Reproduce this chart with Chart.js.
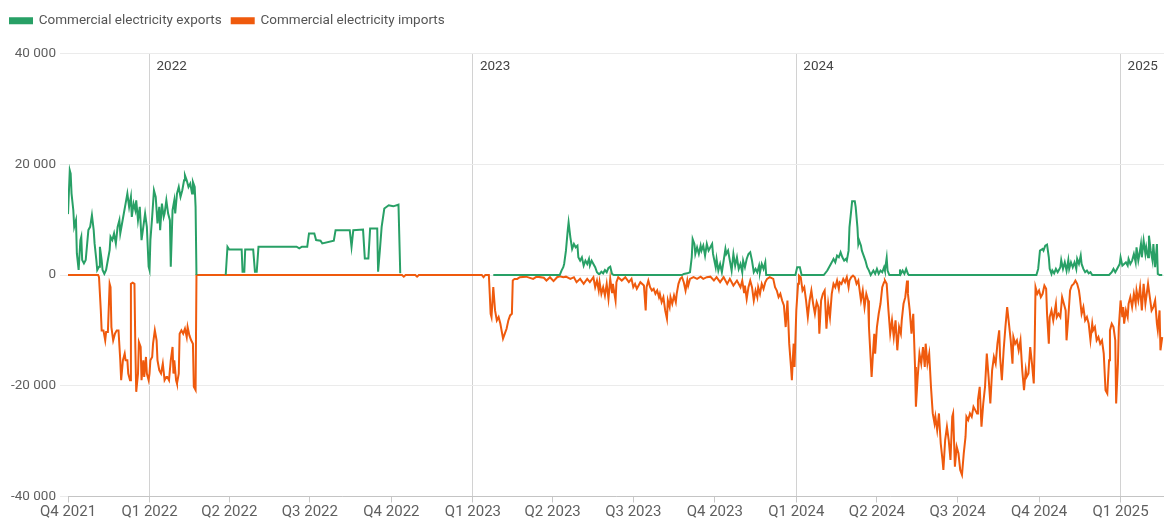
<!DOCTYPE html>
<html><head><meta charset="utf-8">
<script src="https://cdn.jsdelivr.net/npm/chart.js@4/dist/chart.umd.min.js"></script>
<style>html,body{margin:0;padding:0;background:#fff}#wrap{width:1164px;height:521px;position:relative}</style>
</head><body><div id="wrap"><canvas id="c"></canvas></div>
<script>
// x values = days since 2021-10-01
const startDate = '2021-10-01';
const quarterDays = [0,92,182,273,365,457,547,638,730,822,913,1004,1096,1188];
const quarterLabels = ['Q4 2021','Q1 2022','Q2 2022','Q3 2022','Q4 2022','Q1 2023','Q2 2023','Q3 2023','Q4 2023','Q1 2024','Q2 2024','Q3 2024','Q4 2024','Q1 2025'];
const yearDays = [92,457,822,1188];
const yearLabels = ['2022','2023','2024','2025'];
const seriesNames = ['Commercial electricity exports','Commercial electricity imports'];

const exportSeries = [
[0,11000],[2,18900],[3,18300],[4,14700],[6,11700],[7,8700],[9,9900],[10,3900],[12,900],[14,6300],[15,6900],[16,2700],[18,2100],[20,2700],[23,8100],[25,8700],[27,10800],[29,8100],[30,5700],[32,2700],[33,900],[35,1500],[36,5100],[38,2700],[39,900],[41,200],[43,900],[45,2700],[47,4500],[48,6900],[50,6300],[52,7500],[54,5700],[56,8700],[58,9900],[59,7500],[61,9300],[63,11100],[65,12900],[67,14700],[69,12300],[71,14100],[72,10500],[74,12900],[76,11700],[77,13500],[79,9900],[81,12300],[83,6300],[85,8700],[87,11100],[89,8700],[91,1500],[92,900],[93,6300],[95,10500],[97,15300],[99,14100],[101,9300],[103,12300],[104,8100],[106,12900],[108,10500],[109,11100],[111,13500],[113,11100],[115,9900],[116,1500],[118,11700],[120,13500],[121,11100],[123,14700],[125,15900],[127,14100],[129,15300],[131,17100],[132,18000],[134,17100],[136,15900],[138,16500],[140,14700],[141,16800],[143,15900],[144,12300],[145,0],[146,null],
[178,0],[180,5100],[182,4600],[196,4600],[197,600],[199,600],[200,4600],[209,4600],[211,600],[213,600],[215,5100],[258,5100],[261,4800],[264,5100],[270,5100],[272,7500],[278,7500],[280,6300],[285,6200],[287,5700],[300,6200],[302,8100],[318,8100],[320,5100],[322,8100],[333,8200],[335,3000],[339,3000],[341,8400],[349,8400],[350,600],[352,4500],[354,8700],[357,12000],[362,12600],[367,12400],[373,12700],[375,300],[376,null],
[480,0],[555,0],[557,800],[559,1400],[560,2000],[562,4400],[564,8000],[565,9500],[567,6800],[569,4700],[571,5600],[573,5000],[575,5300],[576,3200],[578,2600],[580,3200],[582,1700],[584,2600],[586,2000],[588,2900],[589,1700],[591,2600],[593,2000],[595,1400],[597,500],[599,200],[600,200],[602,600],[604,300],[606,900],[608,500],[610,1300],[612,1500],[614,200],[616,0],
[693,0],[695,200],[699,300],[702,500],[704,3200],[705,6500],[707,5600],[708,3800],[710,5000],[712,3800],[714,5300],[715,4400],[717,5300],[719,3500],[721,5600],[723,4400],[725,5000],[727,5600],[728,3800],[731,1400],[732,2900],[734,800],[736,2000],[738,500],[740,2600],[742,4700],[743,3800],[745,4400],[747,2600],[749,800],[751,3800],[753,1700],[755,3200],[757,1100],[759,2000],[761,500],[762,2600],[764,1400],[766,2900],[768,3800],[770,4100],[772,2600],[774,500],[776,1100],[778,500],[780,1700],[781,500],[783,2000],[785,1100],[787,2300],[788,0],
[821,0],[823,1400],[826,1400],[828,0],[853,0],[857,800],[861,2000],[863,2600],[864,2900],[866,2300],[868,3500],[870,3200],[872,4100],[874,3200],[876,2600],[878,2900],[879,2600],[881,4400],[882,8600],[884,11700],[885,13300],[888,13300],[889,12300],[891,8600],[892,5600],[893,6200],[895,5300],[896,4400],[898,3500],[900,2600],[902,1400],[904,800],[906,0],[909,800],[911,200],[913,1100],[915,200],[917,800],[919,500],[921,1400],[922,800],[924,3100],[925,800],[927,0],[938,0],[939,1000],[940,200],[942,800],[944,200],[946,1100],[948,200],[949,0],
[1093,0],[1095,1100],[1097,4400],[1100,4700],[1101,4400],[1103,5300],[1105,5500],[1107,3200],[1108,1100],[1110,200],[1111,800],[1113,300],[1115,1100],[1117,500],[1119,1100],[1120,1400],[1121,2700],[1123,1100],[1125,2300],[1127,800],[1129,2700],[1130,1100],[1132,2300],[1134,1400],[1136,2300],[1138,1100],[1139,2900],[1141,2000],[1143,3500],[1144,2000],[1146,1100],[1148,500],[1150,800],[1152,300],[1154,500],[1156,0],
[1175,0],[1178,500],[1180,1100],[1182,500],[1184,1100],[1187,2000],[1188,3200],[1190,1700],[1192,2000],[1194,2300],[1196,1700],[1197,2900],[1199,2000],[1201,2600],[1203,3800],[1205,2300],[1206,5000],[1208,2600],[1209,3500],[1211,5600],[1212,3200],[1214,6200],[1216,3800],[1217,5000],[1219,3200],[1220,7100],[1222,4400],[1224,2600],[1225,5600],[1227,1400],[1229,5600],[1230,200],[1232,0],[1235,0]
];

const importSeries = [
[0,0],[34,0],[35,-400],[37,-6300],[38,-10000],[40,-10000],[42,-11800],[43,-10300],[45,-10300],[47,-1600],[48,-2200],[49,-9400],[51,-11800],[53,-10600],[55,-10000],[57,-10000],[59,-15400],[60,-19000],[62,-15400],[64,-14200],[65,-15400],[67,-15400],[68,-17800],[70,-19000],[71,-1600],[73,-1400],[75,-1600],[76,-13000],[77,-21100],[79,-17800],[80,-12100],[82,-13000],[83,-19000],[85,-15400],[86,-18400],[88,-14800],[89,-17800],[91,-19000],[92,-17800],[93,-15400],[95,-14800],[96,-12400],[98,-10000],[100,-11800],[101,-15400],[103,-17200],[105,-17800],[107,-16000],[109,-19000],[111,-18400],[112,-18400],[114,-19000],[116,-15400],[118,-13000],[119,-17800],[120,-15400],[122,-19000],[123,-19600],[125,-17800],[126,-10600],[128,-10000],[130,-10600],[132,-9700],[134,-11200],[135,-9400],[137,-10900],[139,-11800],[141,-12400],[142,-20200],[144,-20800],[145,0],
[377,0],[379,-300],[381,0],[392,0],[394,-300],[396,0],[467,0],[469,-400],[471,0],[475,0],[476,-3400],[477,-7000],[478,-7600],[480,-2200],[482,-6400],[484,-8200],[486,-7600],[488,-8800],[490,-10600],[491,-11500],[493,-10600],[495,-9700],[497,-8200],[499,-7300],[501,-7000],[502,-1000],[504,-700],[507,-700],[510,-400],[517,-300],[525,-700],[529,-300],[537,-500],[540,-1000],[544,-400],[548,-1100],[552,-400],[555,-250],[559,-400],[562,-300],[567,-700],[571,-400],[574,-1300],[578,-700],[582,-1600],[586,-700],[589,-1300],[593,-400],[595,-2200],[597,-1000],[599,-2800],[600,-1300],[602,-3400],[604,-2200],[606,-3700],[608,-1600],[610,-4300],[612,-700],[614,-3100],[615,-1600],[618,-4600],[619,-1300],[621,-400],[625,-1000],[629,-400],[633,-1300],[636,-700],[638,-2200],[640,-1600],[642,-2500],[646,-1300],[650,-1900],[652,-6400],[653,-2200],[655,-1000],[657,-2200],[659,-2800],[661,-2500],[663,-3400],[665,-2800],[667,-4000],[668,-3400],[670,-4900],[672,-4000],[674,-6400],[676,-7900],[677,-4600],[679,-5800],[680,-4000],[682,-5200],[684,-3700],[686,-4900],[687,-3400],[689,-1600],[691,-700],[693,-400],[695,-1300],[697,-2800],[699,-1000],[700,-1900],[702,-700],[706,-400],[710,-700],[714,-300],[717,-700],[721,-400],[725,-300],[729,-1000],[732,-400],[736,-1300],[740,-400],[744,-1600],[747,-700],[751,-1900],[755,-1000],[759,-2200],[761,-1000],[763,-3100],[764,-1900],[766,-4300],[768,-2200],[770,-1000],[772,-2200],[774,-4600],[776,-2800],[778,-4000],[779,-2200],[781,-3400],[783,-1600],[785,-2500],[787,-1300],[789,-700],[792,-400],[796,-700],[798,-2200],[800,-2800],[802,-4000],[804,-3400],[806,-4600],[808,-5500],[810,-9400],[812,-4600],[814,-12400],[816,-16600],[817,-19000],[818,-15400],[819,-12400],[820,-16600],[822,-6400],[824,-1600],[825,-100],[827,-400],[829,-2800],[831,-2200],[833,-4600],[835,-7600],[837,-4600],[839,-2800],[841,-5200],[843,-7000],[845,-4900],[847,-5800],[848,-10600],[850,-4600],[852,-3400],[854,-2800],[856,-9700],[858,-5200],[860,-7600],[862,-3400],[864,-1600],[866,-2200],[868,-1000],[870,-2500],[871,-1300],[873,-1600],[875,-700],[877,-1300],[879,-400],[881,-2200],[882,-1000],[884,-400],[886,-100],[888,-400],[890,-1600],[892,-1000],[893,-2200],[895,-4600],[897,-2800],[899,-5800],[901,-3400],[903,-4600],[904,-9400],[906,-15400],[907,-18400],[909,-13000],[910,-10600],[911,-14200],[913,-9400],[915,-7000],[917,-5200],[919,-2200],[921,-1300],[922,-1000],[924,-1600],[926,-6400],[928,-10600],[930,-8200],[932,-11200],[934,-8200],[936,-13600],[938,-9400],[940,-10600],[941,-8200],[943,-5200],[945,-4000],[947,-1000],[948,-3400],[950,-6400],[952,-10600],[954,-7000],[956,-16600],[957,-23800],[959,-18400],[961,-14200],[963,-16000],[965,-13000],[967,-16600],[968,-12400],[970,-16000],[972,-14200],[974,-20200],[976,-25000],[978,-26800],[979,-25600],[981,-28000],[983,-25000],[985,-30400],[987,-33400],[988,-35200],[990,-29800],[992,-27400],[994,-29800],[996,-33400],[998,-25600],[999,-25000],[1001,-34600],[1003,-31000],[1005,-32200],[1007,-35200],[1009,-36100],[1011,-32200],[1013,-29200],[1014,-25600],[1016,-26200],[1018,-25000],[1020,-25600],[1022,-23800],[1024,-24400],[1026,-25000],[1027,-22600],[1029,-20200],[1031,-27400],[1033,-23200],[1035,-20200],[1037,-14200],[1039,-18400],[1041,-23200],[1043,-17200],[1045,-14800],[1047,-16000],[1049,-12400],[1051,-10000],[1052,-14800],[1054,-19000],[1056,-13600],[1058,-9400],[1060,-5800],[1062,-8800],[1064,-11800],[1066,-16000],[1067,-11200],[1069,-12400],[1071,-11800],[1073,-13600],[1075,-11800],[1077,-17200],[1079,-20800],[1081,-17200],[1082,-18400],[1084,-17800],[1086,-13000],[1088,-16000],[1090,-19600],[1091,-13000],[1092,-2200],[1094,-3400],[1096,-2800],[1098,-4000],[1100,-3400],[1102,-1900],[1104,-2500],[1105,-7000],[1107,-12400],[1108,-7600],[1110,-6400],[1112,-8200],[1115,-5200],[1116,-7600],[1118,-7000],[1120,-7600],[1122,-4000],[1124,-5200],[1126,-6400],[1127,-11800],[1129,-7600],[1131,-2800],[1133,-1900],[1135,-1600],[1137,-1000],[1139,-1600],[1141,-2800],[1142,-4000],[1144,-7000],[1146,-5800],[1148,-8200],[1150,-7600],[1152,-8800],[1154,-11800],[1156,-8800],[1157,-10000],[1159,-9400],[1161,-11800],[1163,-11200],[1165,-12400],[1167,-11800],[1169,-14200],[1171,-20800],[1173,-21400],[1175,-15400],[1176,-10000],[1178,-8800],[1180,-9400],[1182,-11800],[1183,-23200],[1185,-16000],[1186,-9400],[1188,-4600],[1190,-7600],[1191,-5800],[1192,-8800],[1194,-6400],[1196,-7600],[1197,-5200],[1199,-4000],[1201,-5800],[1203,-3400],[1205,-5200],[1206,-2800],[1208,-4600],[1210,-2200],[1212,-6400],[1214,-1600],[1216,-5200],[1218,-2800],[1219,-1600],[1221,-4000],[1223,-6400],[1225,-5800],[1227,-4600],[1229,-8800],[1230,-10000],[1232,-6400],[1233,-13600],[1235,-11200]
];

const yTicks = [-40000,-20000,0,20000,40000];
const xMaxDay = 1237;

const toPts = s => s.map(p => ({x: p[0], y: p[1]}));
const fmt = v => (v < 0 ? '-' : '') + String(Math.abs(v)).replace(/\B(?=(\d{3})+(?!\d))/g, ' ');

Chart.defaults.font.family = 'Roboto, "Noto Sans", sans-serif';
Chart.defaults.color = '#5f5f5f';

const legendSpacer = {
  id: 'legendSpacer',
  beforeLayout(chart) {
    const lg = chart.legend;
    if (!lg || lg._spacerPatched) return;
    const fit = lg.fit.bind(lg);
    lg.fit = function () { fit(); this.height += 16; };
    lg._spacerPatched = true;
  }
};

const yearMarks = {
  id: 'yearMarks',
  afterDraw(chart) {
    const {ctx, chartArea, scales} = chart;
    ctx.save();
    ctx.font = '13.5px Roboto, sans-serif';
    ctx.fillStyle = '#444';
    ctx.textBaseline = 'middle';
    ctx.textAlign = 'left';
    yearDays.forEach((d, i) => {
      ctx.fillText(yearLabels[i], scales.x.getPixelForValue(d) + 7, chartArea.top + 13);
    });
    ctx.restore();
  }
};

new Chart(document.getElementById('c'), {
  type: 'line',
  data: {
    datasets: [
      {label: seriesNames[0], data: toPts(exportSeries), borderColor: '#28a066', backgroundColor: '#28a066', borderWidth: 2, pointRadius: 0, tension: 0, spanGaps: false},
      {label: seriesNames[1], data: toPts(importSeries), borderColor: '#ef5a0d', backgroundColor: '#ef5a0d', borderWidth: 2, pointRadius: 0, tension: 0, spanGaps: false}
    ]
  },
  options: {
    responsive: true,
    maintainAspectRatio: false,
    animation: false,
    layout: {padding: {top: 4, left: 0, right: 0, bottom: 0}},
    plugins: {
      legend: {
        position: 'top', align: 'start',
        labels: {boxWidth: 22, boxHeight: 5, padding: 10, color: '#555', font: {size: 13.5}}
      },
      tooltip: {enabled: false}
    },
    scales: {
      x: {
        type: 'linear', min: 0, max: xMaxDay,
        afterBuildTicks: s => { s.ticks = quarterDays.map(v => ({value: v})); },
        ticks: {autoSkip: false, maxRotation: 0, padding: 1, font: {size: 15, lineHeight: 1.1}, color: '#5f5f5f',
          callback: v => quarterLabels[quarterDays.indexOf(v)]},
        grid: {
          color: c => (c.tick && yearDays.includes(c.tick.value)) ? '#d2d2d2' : 'rgba(0,0,0,0)',
          tickColor: '#c8c8c8', tickLength: 6, lineWidth: 1
        },
        border: {display: true, color: '#c4c4c4'}
      },
      y: {
        min: -40000, max: 40000,
        afterBuildTicks: s => { s.ticks = yTicks.map(v => ({value: v})); },
        afterFit: s => { s.width = 68; },
        ticks: {padding: 4, font: {size: 13.5}, color: '#5f5f5f', callback: v => fmt(v)},
        grid: {color: '#ebebeb', tickColor: '#ebebeb', tickLength: 8},
        border: {display: false}
      }
    }
  },
  plugins: [legendSpacer, yearMarks]
});
</script>
</body></html>
